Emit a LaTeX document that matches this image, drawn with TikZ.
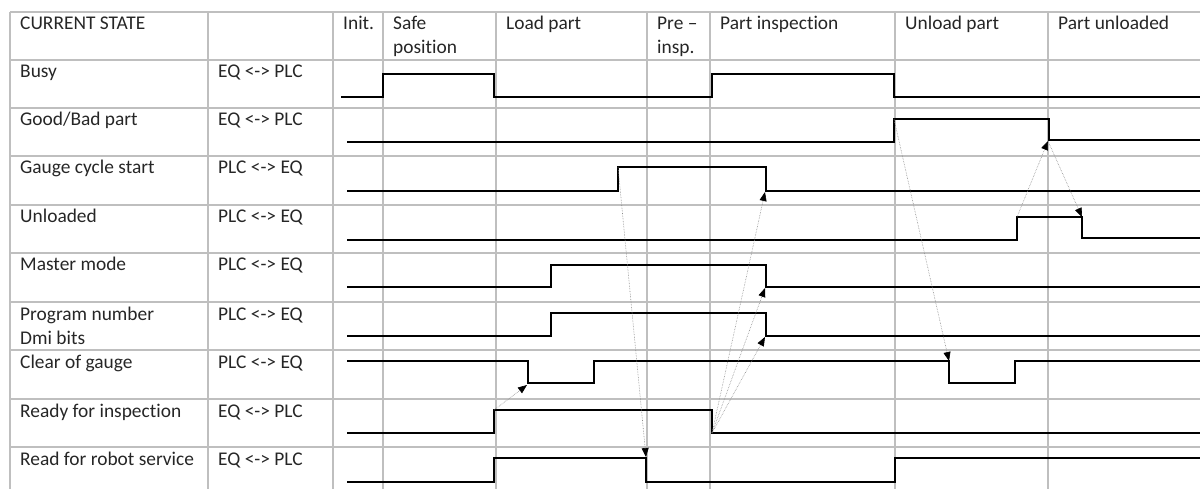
\documentclass[tikz,border=0pt]{standalone}
\usepackage{fontspec}
\setmainfont{Carlito}[Ligatures=NoCommon]
\usetikzlibrary{arrows.meta}

\begin{document}
\begin{tikzpicture}[
    x=1pt, y=-1pt,
    grid/.style={draw=black!25, line width=1.6pt},
    cell/.style={anchor=base west, inner sep=0pt, align=left, text=black!85, font=\fontsize{19.4}{24}\selectfont},
    wave/.style={line width=1.5pt, line join=miter},
    cause/.style={densely dotted, draw=black!45, line width=0.6pt, -{Triangle[length=9pt, width=7pt, color=black]}}
]
\useasboundingbox (0,0) rectangle (1200,489);
\clip (0,0) rectangle (1200,489);
% table
\foreach \gx in {10,208,333,383,496,647,710,895,1048}
  \draw[grid] (\gx,12) -- (\gx,500);
\foreach \gy in {12,60,108,156,205,253,302,350,399,447}
  \draw[grid] (10,\gy) -- (1210,\gy);
% header (two-line cells sit on their last line)
\node[cell] (state) at (20,30) {CURRENT STATE};
\node[cell] (init) at (343,30) {Init.};
\node[cell] (safe) at (393,54) {Safe\\position};
\node[cell] (load) at (506,30) {Load part};
\node[cell] (pre) at (657,54) {Pre –\\insp.};
\node[cell] (inspect) at (720,30) {Part inspection};
\node[cell] (unload) at (905,30) {Unload part};
\node[cell] (unloaded) at (1058,30) {Part unloaded};
% signal names
\node[cell] (busy) at (20,78) {Busy};
\node[cell] (busydir) at (218,78) {EQ <-> PLC};
\node[cell] (good) at (20,126) {Good/Bad part};
\node[cell] (gooddir) at (218,126) {EQ <-> PLC};
\node[cell] (gauge) at (20,174) {Gauge cycle start};
\node[cell] (gaugedir) at (218,174) {PLC <-> EQ};
\node[cell] (unl) at (20,223) {Unloaded};
\node[cell] (unldir) at (218,223) {PLC <-> EQ};
\node[cell] (master) at (20,271) {Master mode};
\node[cell] (masterdir) at (218,271) {PLC <-> EQ};
\node[cell] (prog) at (20,344) {Program number\\Dmi bits};
\node[cell] (progdir) at (218,320) {PLC <-> EQ};
\node[cell] (clear) at (20,368) {Clear of gauge};
\node[cell] (cleardir) at (218,368) {PLC <-> EQ};
\node[cell] (ready) at (20,417) {Ready for inspection};
\node[cell] (readydir) at (218,417) {EQ <-> PLC};
\node[cell] (robot) at (20,465) {Read for robot service};
\node[cell] (robotdir) at (218,465) {EQ <-> PLC};
% waveforms
\draw[wave] (341,97) -- (383,97) -- (383,74) -- (494,74) -- (494,97) -- (712,97) -- (712,74) -- (894,74) -- (894,97) -- (1200,97);
\draw[wave] (347,142) -- (894,142) -- (894,119) -- (1049,119) -- (1049,140) -- (1200,140);
\draw[wave] (347,191) -- (618,191) -- (618,167) -- (766,167) -- (766,191) -- (1200,191);
\draw[wave] (347,240) -- (1017,240) -- (1017,217) -- (1082,217) -- (1082,238) -- (1200,238);
\draw[wave] (347,287) -- (551,287) -- (551,265) -- (766,265) -- (766,287) -- (1200,287);
\draw[wave] (347,336) -- (551,336) -- (551,313) -- (766,313) -- (766,336) -- (1200,336);
\draw[wave] (347,361) -- (528,361) -- (528,383) -- (594,383) -- (594,361) -- (949,361) -- (949,383) -- (1015,383) -- (1015,361) -- (1200,361);
\draw[wave] (347,433) -- (494,433) -- (494,410) -- (712,410) -- (712,433) -- (1200,433);
\draw[wave] (347,482) -- (494,482) -- (494,458) -- (646,458) -- (646,482) -- (895,482) -- (895,458) -- (1200,458);
% edges
\coordinate (readyup) at (494,410);
\coordinate (readydown) at (712,433);
\coordinate (clearfirst) at (527,385);
\coordinate (gaugeup) at (618,167);
\coordinate (robotdown) at (646,457);
\coordinate (gaugedown) at (765,192);
\coordinate (masterdown) at (765,288);
\coordinate (progdown) at (765,337);
\coordinate (goodup) at (894,119);
\coordinate (clearsecond) at (949,361);
\coordinate (unlup) at (1017,217);
\coordinate (gooddown) at (1048,141);
\coordinate (unldown) at (1082,217);
% handshakes
\draw[cause] (readyup) -- (clearfirst);
\draw[cause] (gaugeup) -- (robotdown);
\draw[cause] (readydown) -- (gaugedown);
\draw[cause] (readydown) -- (masterdown);
\draw[cause] (readydown) -- (progdown);
\draw[cause] (goodup) -- (clearsecond);
\draw[cause] (unlup) -- (gooddown);
\draw[cause] (gooddown) -- (unldown);
\end{tikzpicture}
\end{document}
